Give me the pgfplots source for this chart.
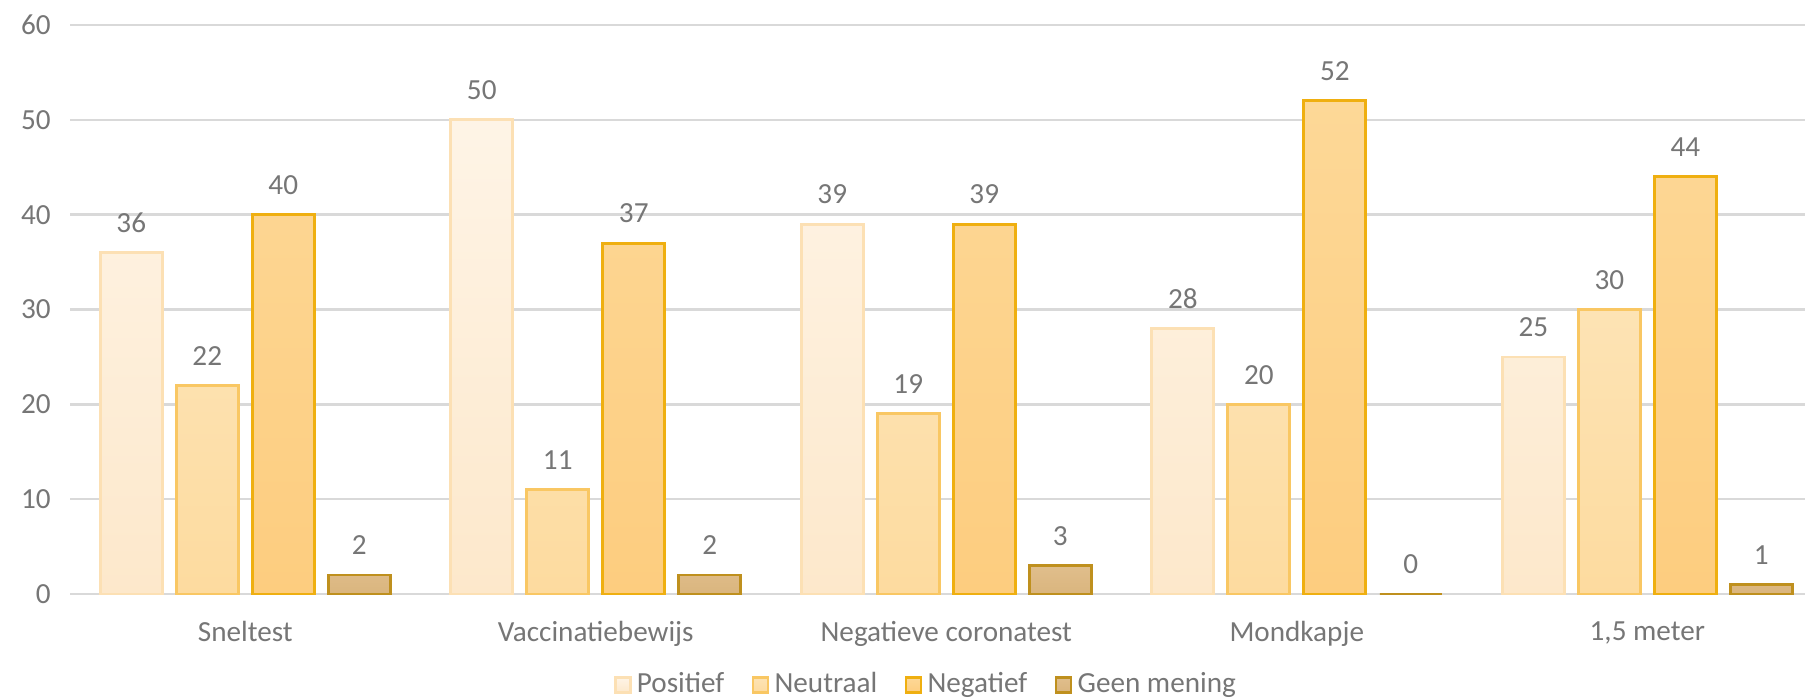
\documentclass[border=0pt]{standalone}
\usepackage{fontspec}
\setmainfont{Carlito}
\usepackage{pgfplots}
\pgfplotsset{compat=1.18}

\definecolor{txt}{HTML}{767676}
\definecolor{gridc}{HTML}{D9D9D9}
\definecolor{posT}{HTML}{FEF4E6}\definecolor{posB}{HTML}{FDE8CB}\definecolor{posE}{HTML}{FCE0B4}
\definecolor{neuT}{HTML}{FDE3B4}\definecolor{neuB}{HTML}{FDDB9F}\definecolor{neuE}{HTML}{F9C763}
\definecolor{negT}{HTML}{FDD897}\definecolor{negB}{HTML}{FDCD7F}\definecolor{negE}{HTML}{EFAF10}
\definecolor{geenT}{HTML}{E0BE8C}\definecolor{geenB}{HTML}{DAB57E}\definecolor{geenE}{HTML}{BF901E}

\begin{document}
\begin{tikzpicture}
\path[use as bounding box] (0,0) rectangle (18.05cm,6.98cm);
\begin{axis}[
    at={(0.70cm,1.04cm)}, anchor=south west,
    scale only axis,
    width=17.35cm, height=5.69cm,
    ybar=0.14cm, bar width=0.62cm,
    xmin=-0.5, xmax=4.45, ymin=0, ymax=60,
    xtick={0,1,2,3,4},
    xticklabels={Sneltest, Vaccinatiebewijs, Negatieve coronatest, Mondkapje, {1,5 meter}},
    ytick={0,10,...,60},
    ymajorgrids, xmajorgrids=false, grid style={draw=gridc, line width=0.7pt},
    axis line style={draw=none},
    major tick length=0pt,
    /pgf/number format/assume math mode=true,
    tick label style={font=\fontsize{8.3}{10}\selectfont, text=txt},
    xticklabel style={yshift=-0.15cm},
    yticklabel style={xshift=-0.07cm},
    clip=false,
    nodes near coords,
    every node near coord/.append style={font=\fontsize{8.3}{10}\selectfont, text=txt, yshift=0.07cm},
    legend style={at={(0.313,-0.16)}, anchor=west, draw=none, inner sep=0pt,
        font=\fontsize{8.3}{10}\selectfont, text=txt,
        legend columns=4, nodes={inner sep=1.5pt},
        /tikz/every even column/.append style={column sep=0.22cm}},
    legend image code/.code={\draw[#1] (0cm,-0.075cm) rectangle (0.15cm,0.075cm);},
]
\addplot[draw=posE, line width=0.8pt, top color=posT, bottom color=posB] coordinates {(0,36) (1,50) (2,39) (3,28) (4,25)};
\addplot[draw=neuE, line width=0.8pt, top color=neuT, bottom color=neuB] coordinates {(0,22) (1,11) (2,19) (3,20) (4,30)};
\addplot[draw=negE, line width=0.8pt, top color=negT, bottom color=negB] coordinates {(0,40) (1,37) (2,39) (3,52) (4,44)};
\addplot[draw=geenE, line width=0.8pt, top color=geenT, bottom color=geenB] coordinates {(0,2) (1,2) (2,3) (3,0) (4,1)};
\legend{Positief, Neutraal, Negatief, Geen mening}
\end{axis}
\end{tikzpicture}
\end{document}
